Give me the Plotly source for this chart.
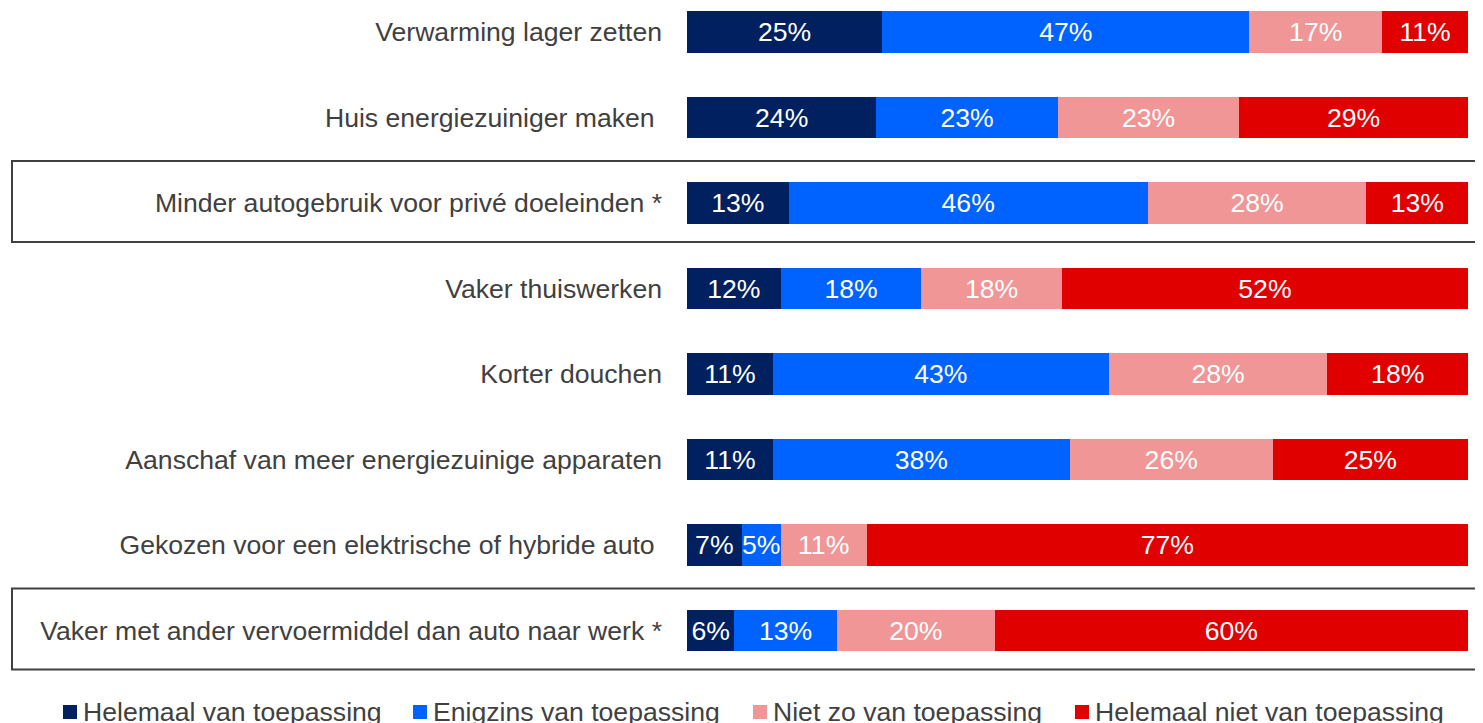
import plotly.graph_objects as go

categories = [
    "Verwarming lager zetten",
    "Huis energiezuiniger maken\u00a0",
    "Minder autogebruik voor privé doeleinden *",
    "Vaker thuiswerken",
    "Korter douchen",
    "Aanschaf van meer energiezuinige apparaten",
    "Gekozen voor een elektrische of hybride auto\u00a0",
    "Vaker met ander vervoermiddel dan auto naar werk *",
]
series_names = [
    "Helemaal van toepassing",
    "Enigzins van toepassing",
    "Niet zo van toepassing",
    "Helemaal niet van toepassing",
]
helemaal = [25, 24, 13, 12, 11, 11, 7, 6]
enigzins = [47, 23, 46, 18, 43, 38, 5, 13]
niet_zo = [17, 23, 28, 18, 28, 26, 11, 20]
helemaal_niet = [11, 29, 13, 52, 18, 25, 77, 60]
colors = ["#00205F", "#0062FF", "#F09696", "#E00000"]
highlighted = [2, 7]

OFF = 8  # page body margin
W, H = 1483 - OFF, 723 - OFF
L = 687 - OFF
plot_right = 1468 - OFF
R = W - plot_right
plot_w = plot_right - L
FS = 26.6
FONT = "Liberation Sans, Arial, sans-serif"


def px2paper_x(px):
    return (px - OFF - L) / plot_w


def px2paper_y(py):
    return 1 - (py - OFF) / H


fig = go.Figure()
for name, vals, col in zip(series_names, [helemaal, enigzins, niet_zo, helemaal_niet], colors):
    fig.add_trace(go.Bar(
        y=categories, x=vals, name=name, orientation="h",
        marker=dict(color=col, line=dict(width=0)),
        width=0.49,
        text=[f"{v}%" for v in vals],
        textposition="inside", insidetextanchor="middle",
        textangle=0, constraintext="none",
        textfont=dict(color="white", size=FS, family=FONT),
        showlegend=False,
    ))

# highlight boxes around rows
for i in highlighted:
    fig.add_shape(type="rect", xref="paper", yref="y",
                  x0=px2paper_x(12), x1=px2paper_x(1500),
                  y0=i - 0.49, y1=i + 0.455,
                  line=dict(color="#404040", width=2), fillcolor="rgba(0,0,0,0)", layer="above")

# legend
legend_x = [63, 413, 753, 1075]
ly = 712
for name, col, x in zip(series_names, colors, legend_x):
    fig.add_shape(type="rect", xref="paper", yref="paper",
                  x0=px2paper_x(x), x1=px2paper_x(x + 14),
                  y0=px2paper_y(ly + 7), y1=px2paper_y(ly - 7),
                  line=dict(width=0), fillcolor=col)
    fig.add_annotation(xref="paper", yref="paper", x=px2paper_x(x + 18), y=px2paper_y(ly),
                       xanchor="left", yanchor="middle", text=name, showarrow=False,
                       font=dict(size=FS, color="#404040", family=FONT))

row_px0, row_step = 32 - OFF, 85.5
fig.update_layout(
    width=W, height=H,
    margin=dict(l=L, r=R, t=0, b=0),
    barmode="stack", barnorm="percent",
    plot_bgcolor="white", paper_bgcolor="white",
    font=dict(family=FONT, size=FS, color="#404040"),
    xaxis=dict(range=[0, 100], visible=False, fixedrange=True),
    yaxis=dict(
        type="category", categoryorder="array", categoryarray=categories,
        range=[(H - row_px0) / row_step, -row_px0 / row_step],
        showgrid=False, showline=False, zeroline=False, ticks="",
        ticklabelstandoff=24, automargin=False,
        tickfont=dict(size=FS, color="#404040", family=FONT),
    ),
)
fig.write_html("out.html")
